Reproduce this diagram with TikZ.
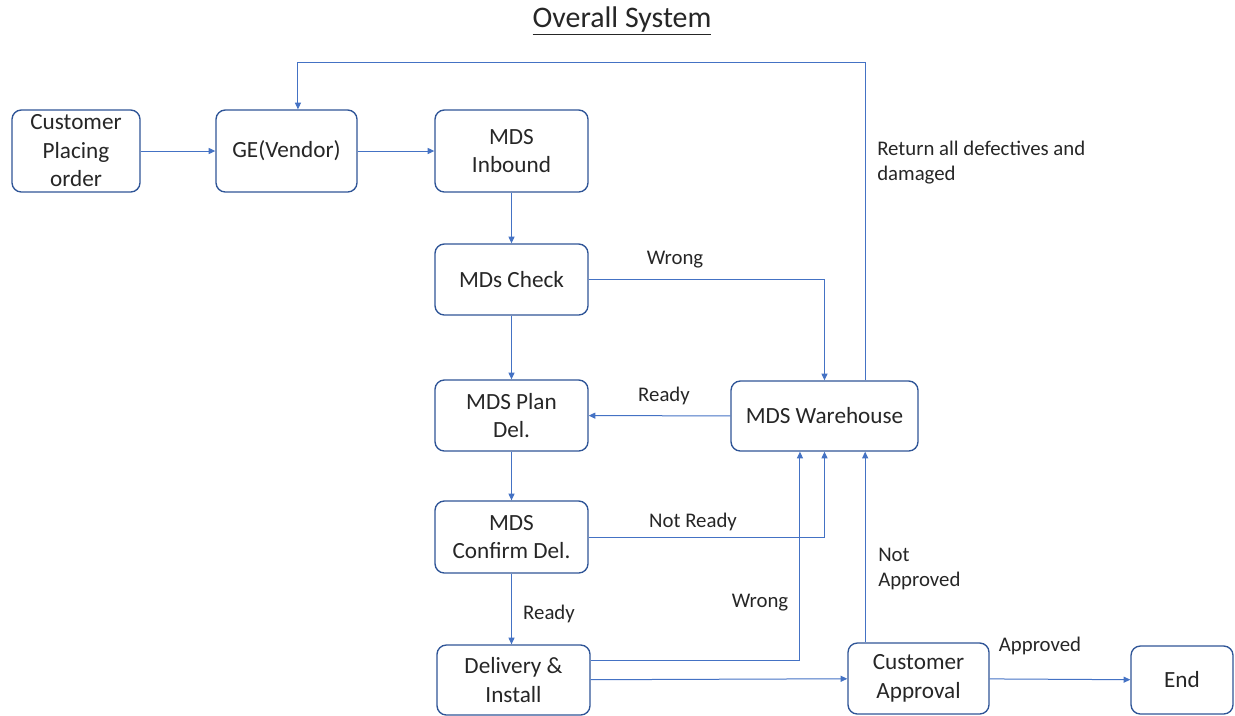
\documentclass[tikz,border=0pt]{standalone}
\usepackage{fontspec}
\setmainfont{Carlito}
\usetikzlibrary{arrows.meta}
\definecolor{boxblue}{RGB}{47,85,151}
\definecolor{lineblue}{RGB}{68,114,196}
\definecolor{txt}{RGB}{38,38,38}
\newcommand\boxfont{\fontsize{17.4}{21.4}\selectfont}
\newcommand\lblfont{\fontsize{15.6}{18.8}\selectfont}
\begin{document}
\begin{tikzpicture}[x=0.75pt,y=-0.75pt,
  box/.style 2 args={draw=boxblue,line width=1pt,rounded corners=7pt,align=center,
    inner sep=0pt,font=\boxfont,text=txt,minimum width=#1*0.75pt,minimum height=#2*0.75pt},
  flow/.style={draw=lineblue,line width=0.75pt,-{Triangle[length=5pt,width=4.5pt]}},
  lbl/.style={font=\lblfont,text=txt,inner sep=0pt}]
  \useasboundingbox (0,0) rectangle (1235,715);

  \node[font=\fontsize{22.4}{26}\selectfont,text=txt] (title) at (622,21) {\underline{Overall System}};

  \node[box={128}{82}] (cust) at (76,151) {Customer\\Placing\\order};
  \node[box={141}{82}] (ge) at (286.5,151) {GE(Vendor)};
  \node[box={153}{82}] (inb) at (511.5,151) {MDS\\Inbound};
  \node[box={153}{71}] (chk) at (511.5,279.5) {MDs Check};
  \node[box={153}{71}] (plan) at (511.5,415.5) {MDS Plan\\Del.};
  \node[box={153}{72}] (conf) at (511.5,537) {MDS\\Confirm Del.};
  \node[box={153}{70}] (deliv) at (513.5,680) {Delivery \&\\Install};
  \node[box={187}{70}] (wh) at (824.5,416) {MDS Warehouse};
  \node[box={141}{71}] (appr) at (918.5,678.5) {Customer\\Approval};
  \node[box={102}{68}] (fin) at (1182,680) {End};

  \draw[flow] (cust) -- (ge);
  \draw[flow] (ge) -- (inb);
  \draw[flow] (inb) -- (chk);
  \draw[flow] (chk) -- (plan);
  \draw[flow] (plan) -- (conf);
  \draw[flow] (conf.south) -- (conf.south |- deliv.north);
  \draw[flow] (chk.east) -| (wh.north);
  \draw[flow] (wh) -- (plan);
  \draw[flow] (conf.east) -| (wh.south);
  \draw[flow] ([yshift=15pt]deliv.east) -| ([xshift=-18.4pt]wh.south);
  \draw[flow] (deliv) -- (appr);
  \draw[flow] ([xshift=-40pt]appr.north) -- ([xshift=-40pt]appr.north |- wh.south);
  \draw[flow] (appr) -- (fin);
  \draw[flow] ([xshift=30.4pt]wh.north) -- ++(0,-318) -| ([xshift=8.6pt]ge.north);

  \node[lbl] (l1) at (675,260) {Wrong};
  \node[lbl] (l2) at (664,396) {Ready};
  \node[lbl] (l3) at (693,522) {Not Ready};
  \node[lbl] (l4) at (760,603) {Wrong};
  \node[lbl] (l5) at (549,614) {Ready};
  \node[lbl] (l6) at (1040,646) {Approved};
  \node[lbl,anchor=north west,align=left] (l7) at (878,548) {Not\\Approved};
  \node[lbl,anchor=north west,align=left] (l8) at (877,141) {Return all defectives and\\damaged};
\end{tikzpicture}
\end{document}
